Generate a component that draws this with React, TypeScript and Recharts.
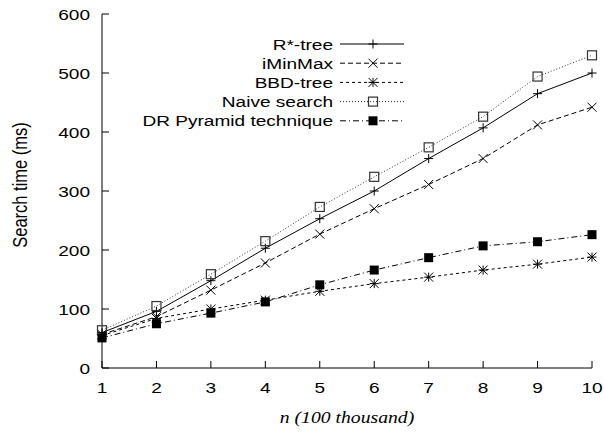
import React from 'react';
import { LineChart, Line, XAxis, YAxis } from 'recharts';

const nValues = [1, 2, 3, 4, 5, 6, 7, 8, 9, 10];
const rtree = [60, 96, 148, 203, 253, 300, 355, 407, 465, 500];
const iminmax = [57, 87, 132, 178, 227, 270, 311, 355, 412, 442];
const bbdTree = [55, 84, 100, 115, 130, 143, 154, 166, 176, 188];
const naive = [64, 105, 159, 215, 273, 324, 374, 426, 494, 530];
const drPyramid = [51, 75, 93, 112, 141, 166, 187, 207, 214, 226];
const yTicks = [0, 100, 200, 300, 400, 500, 600];

const data = nValues.map((n, i) => ({
  n,
  rtree: rtree[i],
  iminmax: iminmax[i],
  bbd: bbdTree[i],
  naive: naive[i],
  dr: drPyramid[i],
}));

const SANS = 'Liberation Sans, Arial, sans-serif';
const TICK_LEN = 7;
// the original figure is stretched sideways, so the glyphs are wider than tall
const SX = 1.23;
const FONT = 15.5;

type MarkerKind = 'plus' | 'cross' | 'star' | 'square' | 'filled';

const Marker = ({ cx, cy, kind }: { cx: number; cy: number; kind: MarkerKind }) => {
  const r = 4.5;
  const plus = <path d={`M${cx - r},${cy}H${cx + r}M${cx},${cy - r}V${cy + r}`} stroke="#000" fill="none" />;
  const cross = (
    <path
      d={`M${cx - r},${cy - r}L${cx + r},${cy + r}M${cx - r},${cy + r}L${cx + r},${cy - r}`}
      stroke="#000"
      fill="none"
    />
  );
  if (kind === 'plus') return plus;
  if (kind === 'cross') return cross;
  if (kind === 'star') return <g>{plus}{cross}</g>;
  if (kind === 'square')
    return <rect x={cx - r} y={cy - r} width={2 * r} height={2 * r} fill="none" stroke="#333" strokeWidth={1.2} />;
  return <rect x={cx - r} y={cy - r} width={2 * r} height={2 * r} fill="#000" />;
};

const series: { key: string; name: string; dash?: string; marker: MarkerKind; color: string }[] = [
  { key: 'rtree', name: 'R*-tree', marker: 'plus', color: '#000' },
  { key: 'iminmax', name: 'iMinMax', dash: '5 3', marker: 'cross', color: '#000' },
  { key: 'bbd', name: 'BBD-tree', dash: '3 3', marker: 'star', color: '#000' },
  { key: 'naive', name: 'Naive search', dash: '1 2', marker: 'square', color: '#333' },
  { key: 'dr', name: 'DR Pyramid technique', dash: '6 3 1 3', marker: 'filled', color: '#000' },
];

const WideText = ({ x, y, anchor, dy, children }: any) => (
  <text
    transform={`translate(${x},${y}) scale(${SX},1)`}
    dy={dy}
    textAnchor={anchor}
    fontSize={FONT}
    fontFamily={SANS}
    fill="#000"
  >
    {children}
  </text>
);

const LeftTick = (props: any) => {
  const { x, y, payload } = props;
  return (
    <g>
      <line x1={x + 12} x2={x + 12 + TICK_LEN} y1={y} y2={y} stroke="#000" />
      <WideText x={x} y={y} dy="0.36em" anchor="end">
        {payload.value}
      </WideText>
    </g>
  );
};

const RightTick = (props: any) => {
  const { x, y } = props;
  return <line x1={x - TICK_LEN} x2={x} y1={y} y2={y} stroke="#000" />;
};

const BottomTick = (props: any) => {
  const { x, y, payload } = props;
  return (
    <g>
      <line x1={x} x2={x} y1={y - 14} y2={y - 14 - TICK_LEN} stroke="#000" />
      <WideText x={x} y={y} dy="0.71em" anchor="middle">
        {payload.value}
      </WideText>
    </g>
  );
};

const TopTick = (props: any) => {
  const { x, y } = props;
  return <line x1={x} x2={x} y1={y} y2={y + TICK_LEN} stroke="#000" />;
};

const YTitle = (props: any) => {
  const { viewBox } = props;
  const cx = viewBox.x - 20;
  const cy = viewBox.y + viewBox.height / 2 - 6;
  return (
    <text
      transform={`translate(${cx},${cy}) scale(${SX},1) rotate(-90)`}
      textAnchor="middle"
      dy="0.36em"
      fontSize={16.5}
      fontFamily={SANS}
      fill="#000"
    >
      Search time (ms)
    </text>
  );
};

const XTitle = (props: any) => {
  const { viewBox } = props;
  return (
    <text
      transform={`translate(${viewBox.x + viewBox.width / 2},${viewBox.y + 55}) scale(${SX},1)`}
      textAnchor="middle"
      fontSize={16}
      fontStyle="italic"
      fontFamily="Liberation Serif, Times New Roman, serif"
      fill="#000"
    >
      n (100 thousand)
    </text>
  );
};

const LegendBox = () => {
  const rowY = (i: number) => 44 + i * 19.2;
  return (
    <svg width={604} height={432} style={{ position: 'absolute', left: 0, top: 0, pointerEvents: 'none' }}>
      {series.map((s, i) => (
        <g key={s.key}>
          <WideText x={333} y={rowY(i)} dy="0.36em" anchor="end">
            {s.name}
          </WideText>
          <line x1={340} x2={404} y1={rowY(i)} y2={rowY(i)} stroke={s.color} strokeDasharray={s.dash} />
          <Marker cx={373} cy={rowY(i)} kind={s.marker} />
        </g>
      ))}
    </svg>
  );
};

export default function App() {
  return (
    <div style={{ position: 'absolute', left: 0, top: 0, width: 604, height: 432, background: '#fff' }}>
      <LineChart width={604} height={432} data={data} margin={{ top: 14, right: 12, bottom: 24, left: 40 }}>
        <XAxis
          dataKey="n"
          type="number"
          domain={[1, 10]}
          ticks={nValues}
          interval={0}
          height={40}
          tickSize={0}
          tickMargin={14}
          tickLine={false}
          tick={<BottomTick />}
          axisLine={{ stroke: '#000' }}
          label={<XTitle />}
        />
        <XAxis
          xAxisId="top"
          dataKey="n"
          type="number"
          orientation="top"
          domain={[1, 10]}
          ticks={nValues}
          interval={0}
          height={0}
          tickSize={0}
          tickMargin={0}
          tickLine={false}
          tick={<TopTick />}
          axisLine={{ stroke: '#000' }}
        />
        <YAxis
          type="number"
          domain={[0, 600]}
          ticks={yTicks}
          interval={0}
          width={62}
          tickSize={0}
          tickMargin={12}
          tickLine={false}
          tick={<LeftTick />}
          axisLine={{ stroke: '#000' }}
          label={<YTitle />}
        />
        <YAxis
          yAxisId="right"
          type="number"
          orientation="right"
          domain={[0, 600]}
          ticks={yTicks}
          interval={0}
          width={0}
          tickSize={0}
          tickMargin={0}
          tickLine={false}
          tick={<RightTick />}
          axisLine={{ stroke: '#000' }}
        />
        {series.map((s) => (
          <Line
            key={s.key}
            dataKey={s.key}
            name={s.name}
            stroke={s.color}
            strokeWidth={1}
            strokeDasharray={s.dash}
            isAnimationActive={false}
            dot={(p: any) => <Marker key={`${s.key}-${p.index}`} cx={p.cx} cy={p.cy} kind={s.marker} />}
            activeDot={false}
          />
        ))}
      </LineChart>
      <LegendBox />
    </div>
  );
}
